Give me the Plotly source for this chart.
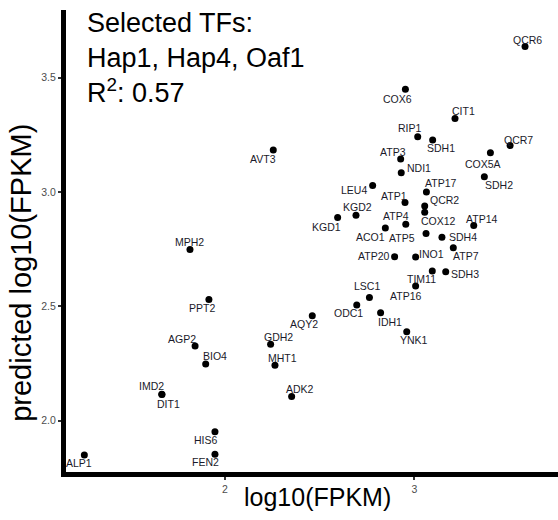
import plotly.graph_objects as go

# ---- data ----
genes = ["QCR6", "COX6", "CIT1", "RIP1", "SDH1", "QCR7", "AVT3", "COX5A", "ATP3", "NDI1",
         "SDH2", "LEU4", "ATP17", "ATP1", "QCR2", "COX12", "KGD2", "KGD1", "ATP4", "ATP14",
         "ACO1", "ATP5", "SDH4", "ATP7", "MPH2", "ATP20", "INO1", "TIM11", "SDH3", "ATP16",
         "LSC1", "PPT2", "ODC1", "IDH1", "AQY2", "YNK1", "GDH2", "AGP2", "BIO4", "MHT1",
         "IMD2", "DIT1", "ADK2", "HIS6", "FEN2", "ALP1"]
observed = [3.585, 2.953, 3.215, 3.018, 3.097, 3.506, 2.255, 3.402, 2.928, 2.931,
            3.370, 2.780, 3.064, 2.951, 3.055, 3.055, 2.692, 2.595, 2.955, 3.314,
            2.847, 3.062, 3.146, 3.206, 1.815, 2.896, 3.007, 3.095, 3.166, 3.007,
            2.763, 1.915, 2.696, 2.822, 2.461, 2.960, 2.241, 1.842, 1.898, 2.264,
            1.666, 1.667, 2.352, 1.947, 1.947, 1.257]
predicted = [3.636, 3.449, 3.322, 3.242, 3.227, 3.203, 3.184, 3.172, 3.144, 3.084,
             3.067, 3.028, 3.000, 2.954, 2.939, 2.911, 2.898, 2.888, 2.859, 2.853,
             2.843, 2.818, 2.802, 2.756, 2.749, 2.717, 2.716, 2.654, 2.651, 2.589,
             2.539, 2.530, 2.506, 2.472, 2.459, 2.389, 2.334, 2.326, 2.248, 2.242,
             2.115, 2.114, 2.105, 1.951, 1.853, 1.850]
x_ticks = [2, 3]
y_ticks = [2.0, 2.5, 3.0, 3.5]
tf_text = "Selected TFs:<br>Hap1, Hap4, Oaf1<br>R<sup>2</sup>: 0.57"

# label offsets (pixels, right / down) -- repel-style placement
label_offsets = {
    "QCR6": (2, -7), "COX6": (-8, 10), "CIT1": (8, -7), "RIP1": (-8, -9), "SDH1": (8, 8),
    "QCR7": (8, -6), "AVT3": (-10, 9), "COX5A": (-7, 11), "ATP3": (-8, -7), "NDI1": (18, -5),
    "SDH2": (15, 8), "LEU4": (-19, 4), "ATP17": (14, -9), "ATP1": (-11, -7), "QCR2": (20, -6),
    "COX12": (14, 9), "KGD2": (2, -8), "KGD1": (-11, 9), "ATP4": (-10, -8), "ATP14": (8, -7),
    "ACO1": (-15, 9), "ATP5": (-24, 4), "SDH4": (21, 0), "ATP7": (13, 8), "MPH2": (0, -7),
    "ATP20": (-21, -1), "INO1": (16, -3), "TIM11": (-11, 8), "SDH3": (19, 2), "ATP16": (-10, 10),
    "LSC1": (-2, -11), "PPT2": (-7, 9), "ODC1": (-8, 8), "IDH1": (9, 9), "AQY2": (-8, 8),
    "YNK1": (7, 8), "GDH2": (8, -7), "AGP2": (-13, -7), "BIO4": (9, -8), "MHT1": (8, -7),
    "IMD2": (-10, -8), "DIT1": (7, 9), "ADK2": (8, -8), "HIS6": (-9, 8), "FEN2": (-9, 8),
    "ALP1": (-5, 8),
}

FONT = "Liberation Sans, Arial, Helvetica, sans-serif"

fig = go.Figure()
fig.add_trace(go.Scatter(
    x=observed, y=predicted, mode="markers",
    marker=dict(color="black", size=7, line=dict(width=0)),
    hoverinfo="text", text=genes, showlegend=False,
))

annotations = []
for g, xv, yv in zip(genes, observed, predicted):
    dx, dy = label_offsets[g]
    annotations.append(dict(
        x=xv, y=yv, xref="x", yref="y", text=g, showarrow=False,
        xanchor="center", yanchor="middle", xshift=dx, yshift=-dy,
        font=dict(family=FONT, size=10.5, color="#1a1a2a"),
    ))

# top-left annotation
annotations.append(dict(
    x=0.0386, y=1.009, xref="paper", yref="paper", text=tf_text, showarrow=False,
    xanchor="left", yanchor="top", align="left",
    font=dict(family=FONT, size=27, color="black"),
))
# axis titles
annotations.append(dict(
    x=0.511, y=-0.0541, xref="paper", yref="paper", text="log10(FPKM)", showarrow=False,
    xanchor="center", yanchor="middle",
    font=dict(family=FONT, size=25, color="black"),
))
annotations.append(dict(
    x=-0.0915, y=0.431, xref="paper", yref="paper", text="predicted log10(FPKM)", showarrow=False,
    xanchor="center", yanchor="middle", textangle=-90,
    font=dict(family=FONT, size=29, color="black"),
))

fig.update_layout(
    width=558, height=520,
    margin=dict(l=66, r=0, t=10, b=48),
    paper_bgcolor="white", plot_bgcolor="white",
    annotations=annotations,
    xaxis=dict(
        range=[1.1601, 3.7591], tickvals=x_ticks, ticktext=[str(v) for v in x_ticks],
        showgrid=False, zeroline=False, showline=True, linewidth=5, linecolor="black",
        ticks="outside", ticklen=3, tickwidth=1.5, tickcolor="#333333",
        tickfont=dict(family=FONT, size=10.5, color="#4D4D4D"),
    ),
    yaxis=dict(
        range=[1.7752, 3.7962], tickvals=y_ticks, ticktext=[f"{v:.1f}" for v in y_ticks],
        showgrid=False, zeroline=False, showline=True, linewidth=5, linecolor="black",
        ticks="outside", ticklen=3, tickwidth=1.5, tickcolor="#333333",
        tickfont=dict(family=FONT, size=10.5, color="#4D4D4D"),
    ),
)

fig.write_html("out.html")
